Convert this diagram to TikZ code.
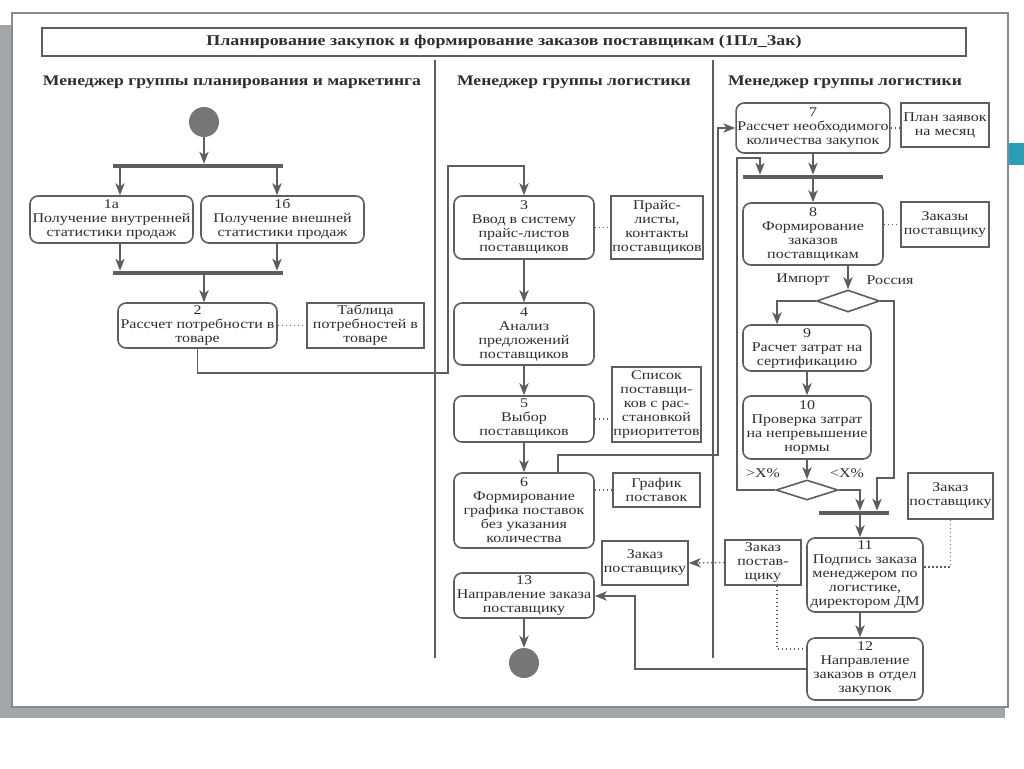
\documentclass[tikz,border=0pt]{standalone}
\usepackage{fontspec}
\setmainfont{Liberation Serif}[FakeStretch=1.2]
\usetikzlibrary{arrows.meta,shapes.geometric}
\definecolor{ln}{HTML}{5E5E5E}
\definecolor{tx}{HTML}{2E2E2E}
\definecolor{shadowgray}{HTML}{A3A6A8}
\definecolor{tealbar}{HTML}{2B9DB6}
\definecolor{framegray}{HTML}{8A8A8A}
\begin{document}
\begin{tikzpicture}[x=0.75pt,y=-0.75pt,
  wh/.style 2 args={minimum width=#1*0.75pt, minimum height=#2*0.75pt},
  bfont/.style={font=\fontsize{10}{10.5}\selectfont},
  act/.style={draw=ln, line width=1.2pt, rounded corners=6pt, fill=white, align=center, text=tx, inner sep=1pt, bfont},
  doc/.style={draw=ln, line width=1.1pt, fill=white, align=center, text=tx, inner sep=1pt, bfont},
  bar/.style={fill=ln, inner sep=0pt, minimum height=3pt},
  dec/.style={diamond, draw=ln, line width=1.2pt, fill=white, inner sep=0pt},
  dotcirc/.style={circle, fill=ln!85, inner sep=0pt, minimum size=22.5pt},
  conn/.style={draw=ln, line width=1.2pt},
  tip/.tip={Stealth[length=9pt,width=7pt,inset=2.5pt]},
  arr/.style={conn, -tip},
  dotl/.style={draw=ln, line width=1pt, dotted},
  lbl/.style={text=tx, inner sep=0pt, bfont},
  hdr/.style={text=tx, inner sep=0pt, font=\fontsize{11}{12}\selectfont\bfseries},
  lane/.style={draw=ln, line width=1.5pt}
]
\useasboundingbox (0,0) rectangle (1024,768);
% page frame
\fill[shadowgray] (0,25) rectangle (1005,718);
\draw[fill=white, draw=framegray, line width=1pt] (12,13) rectangle (1008,707);
\fill[tealbar] (1009,143) rectangle (1024,165);

% title and lanes
\node[draw=ln, line width=1.1pt, wh={924}{28}, inner sep=0pt, text=tx, font=\fontsize{11.2}{12}\selectfont\bfseries] (title) at (504,42) {Планирование закупок и формирование заказов поставщикам (1Пл\_Зак)};
\node[hdr] (h1) at (232,82) {Менеджер группы планирования и маркетинга};
\node[hdr] (h2) at (574,82) {Менеджер группы логистики};
\node[hdr] (h3) at (845,82) {Менеджер группы логистики};
\draw[lane] (435,60) -- (435,658);
\draw[lane] (713,60) -- (713,658);

% helper coordinates
\coordinate (x120) at (120,0);
\coordinate (x277) at (277,0);
\coordinate (x204) at (204,0);
\coordinate (x558) at (558,0);
\coordinate (x760) at (760,0);
\coordinate (x777) at (777,0);
\coordinate (x860) at (860,0);
\coordinate (x877) at (877,0);
\coordinate (y567) at (0,567);
\coordinate (y649) at (0,649);
\coordinate (r1) at (448,373);
\coordinate (r2) at (448,166);
\coordinate (r3) at (718,455);
\coordinate (l1) at (737,158);
\coordinate (l2) at (894,478);
\coordinate (k1) at (635,596);

% lane 1
\node[dotcirc] (start) at (204,122) {};
\node[bar, minimum width=127.5pt] (bar1) at (198,166) {};
\node[act, wh={163}{47}] (b1a) at (111.5,219.5) {1а\\Получение внутренней\\статистики продаж};
\node[act, wh={163}{47}] (b1b) at (282.5,219.5) {1б\\Получение внешней\\статистики продаж};
\node[bar, minimum width=127.5pt] (bar2) at (198,273) {};
\node[act, wh={159}{45}] (b2) at (197.5,325.5) {2\\Рассчет потребности в\\товаре};
\node[doc, wh={117}{45}] (t2) at (365.5,325.5) {Таблица\\потребностей в\\товаре};

% lane 2
\node[act, wh={140}{63}] (b3) at (524,227.5) {3\\Ввод в систему\\прайс-листов\\поставщиков};
\node[doc, wh={88}{63}] (t3) at (657,227.5) {Прайс-\\листы,\\контакты\\поставщиков};
\node[act, wh={140}{62}] (b4) at (524,334) {4\\Анализ\\предложений\\поставщиков};
\node[act, wh={140}{46}] (b5) at (524,419) {5\\Выбор\\поставщиков};
\node[doc, wh={87}{75}] (t5) at (656.5,404.5) {Список\\поставщи-\\ков с рас-\\становкой\\приоритетов};
\node[act, wh={140}{75}] (b6) at (524,510.5) {6\\Формирование\\графика поставок\\без указания\\количества};
\node[doc, wh={87}{34}] (t6) at (656.5,490) {График\\поставок};
\node[doc, wh={86}{44}] (t13) at (645,563) {Заказ\\поставщику};
\node[act, wh={140}{45}] (b13) at (524,595.5) {13\\Направление заказа\\поставщику};
\node[dotcirc] (end) at (524,663) {};

% lane 3
\node[act, wh={140}{50}] (b7) at (813,128) {7\\Рассчет необходимого\\количества закупок};
\node[doc, wh={88}{44}] (t7) at (945,125) {План заявок\\на месяц};
\node[bar, minimum width=105pt] (bar3) at (813,177) {};
\node[act, wh={140}{62}] (b8) at (813,234) {8\\Формирование\\заказов\\поставщикам};
\node[doc, wh={88}{45}] (t8) at (945,224.5) {Заказы\\поставщику};
\node[lbl] (limp) at (803,280) {Импорт};
\node[lbl] (lrus) at (890,280) {Россия};
\node[dec, wh={63}{22}] (d1) at (848,301) {};
\node[act, wh={128}{46}] (b9) at (807,348) {9\\Расчет затрат на\\сертификацию};
\node[act, wh={128}{63}] (b10) at (807,427.5) {10\\Проверка затрат\\на непревышение\\нормы};
\node[lbl] (lgt) at (763,473) {>X\%};
\node[lbl] (llt) at (847,473) {<X\%};
\node[dec, wh={62}{20}] (d2) at (807,490) {};
\node[bar, minimum width=52.5pt] (bar4) at (854,513) {};
\node[doc, wh={75}{46}] (t11) at (950.5,496) {Заказ\\поставщику};
\node[act, wh={116}{74}] (b11) at (865,575) {11\\Подпись заказа\\менеджером по\\логистике,\\директором ДМ};
\node[doc, wh={76}{45}] (t12) at (763,562.5) {Заказ\\постав-\\щику};
\node[act, wh={116}{62}] (b12) at (865,669) {12\\Направление\\заказов в отдел\\закупок};

% connectors lane 1
\draw[arr] (start.south) -- (start.south |- bar1.north);
\draw[arr] (bar1.south -| x120) -- (b1a.north -| x120);
\draw[arr] (bar1.south -| x277) -- (b1b.north -| x277);
\draw[arr] (b1a.south -| x120) -- (bar2.north -| x120);
\draw[arr] (b1b.south -| x277) -- (bar2.north -| x277);
\draw[arr] (bar2.south -| x204) -- (b2.north -| x204);
\draw[dotl] (b2.east) -- (t2.west);
\draw[arr] (b2.south) |- (r1) -- (r2) -| (b3.north);

% connectors lane 2
\draw[dotl] (b3.east) -- (t3.west);
\draw[arr] (b3.south) -- (b4.north);
\draw[arr] (b4.south) -- (b5.north);
\draw[dotl] (b5.east) -- (b5.east -| t5.west);
\draw[arr] (b5.south) -- (b6.north);
\draw[dotl] (t6.west -| b6.east) -- (t6.west);
\draw[arr] (b6.north -| x558) |- (r3) |- (b7.west);
\draw[arr] (b13.south) -- (end.north);

% connectors lane 3
\draw[dotl] (b7.east) -- (b7.east -| t7.west);
\draw[arr] (b7.south) -- (bar3.north -| b7.south);
\draw[arr] (bar3.south -| b8.north) -- (b8.north);
\draw[dotl] (t8.west -| b8.east) -- (t8.west);
\draw[arr] (b8.south -| d1.north) -- (d1.north);
\draw[arr] (d1.west) -| (b9.north -| x777);
\draw[arr] (d1.east) -| (l2) -| (bar4.north -| x877);
\draw[arr] (b9.south) -- (b10.north);
\draw[arr] (b10.south) -- (d2.north);
\draw[arr] (d2.west) -| (l1) -| (bar3.north -| x760);
\draw[arr] (d2.east) -| (bar4.north -| x860);
\draw[arr] (bar4.south -| x860) -- (b11.north -| x860);
\draw[arr] (b11.south -| x860) -- (b12.north -| x860);
\draw[dotl] (t11.south) |- (b11.east |- y567);
\draw[dotl] (t12.south -| x777) |- (b12.west |- y649);
\draw[dotl, -tip] (t12.west) -- (t13.east);
\draw[arr] (b12.west) -| (k1) -- (b13.east |- k1);
\end{tikzpicture}
\end{document}
